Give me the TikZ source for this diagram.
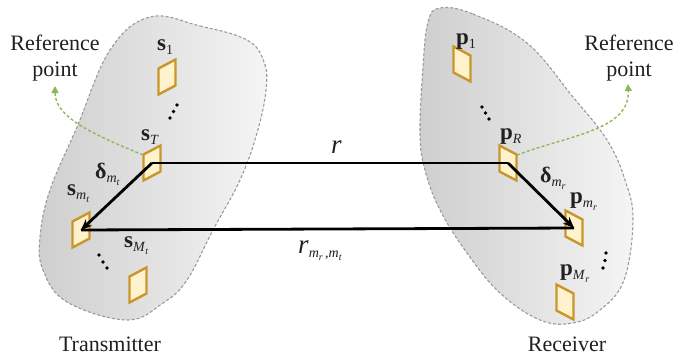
\documentclass[tikz,border=0pt]{standalone}
\usepackage{fontspec}
\setmainfont{Liberation Serif}
\usetikzlibrary{arrows.meta,calc}
\definecolor{txtc}{HTML}{231F20}
\definecolor{elemline}{HTML}{C9962C}
\definecolor{elemfill}{HTML}{FFF2CC}
\definecolor{refgreen}{HTML}{8DB85A}
\definecolor{blobline}{HTML}{9A9A9A}
\newcommand{\sbx}[1]{\raisebox{-4.5pt}{\fontsize{14}{14}\selectfont #1}}
\newcommand{\ssbx}[1]{\raisebox{-3pt}{\fontsize{10}{10}\selectfont #1}}
\tikzset{
  x=1pt, y=-1pt,
  blob/.style={draw=blobline, line width=1.1pt, dash pattern=on 3pt off 2pt,
    left color=black!19, right color=black!4},
  elemstyle/.style={draw=elemline, fill=elemfill, line width=2.4pt, line join=miter},
  txel/.pic={\draw[elemstyle] (-8.5,17.5) -- (8.5,8.5) -- (8.5,-17.5) -- (-8.5,-8.5) -- cycle;},
  rxel/.pic={\draw[elemstyle] (-8.5,-17.5) -- (8.5,-8.5) -- (8.5,17.5) -- (-8.5,8.5) -- cycle;},
  lbl/.style={text=txtc, font=\fontsize{23}{26}\selectfont, inner sep=0pt},
  dlbl/.style={text=txtc, font=\fontsize{22}{26}\selectfont, inner sep=0pt},
  rlbl/.style={text=txtc, font=\fontsize{27}{30}\selectfont, inner sep=0pt},
  bigtxt/.style={text=txtc, font=\fontsize{22}{26}\selectfont, align=center, inner sep=0pt},
  vec/.style={line width=2.8pt, black},
  vecarrow/.style={vec, -{Stealth[length=11pt,width=9pt]}},
  refarrow/.style={refgreen, line width=1.4pt, dash pattern=on 3pt off 2.2pt,
    -{Triangle[length=7pt,width=7pt]}},
  dotm/.style={circle, fill=black, inner sep=0pt, minimum size=3.6pt}
}
\begin{document}
\begin{tikzpicture}
\useasboundingbox (0,0) rectangle (678,362);
% blobs
\path[blob] plot[smooth cycle, tension=0.65] coordinates {
 (150,17) (200,26) (247,40) (264,62) (266,90) (257,133) (240,180) (213,230)
 (187,280) (163,303) (127,320) (67,302) (43,270) (40,237) (50,190) (77,127) (110,50)};
\path[blob] plot[smooth cycle, tension=0.65] coordinates {
 (440,8) (473,14) (527,43) (573,97) (607,140) (625,180) (633,220) (624,280)
 (600,310) (573,323) (540,320) (500,293) (467,253) (440,210) (425,170) (420,133) (423,67) (428,22)};
% element coordinates
\coordinate (s1) at (167,77);
\coordinate (sT) at (152,163);
\coordinate (smt) at (81,230);
\coordinate (sMt) at (138,285);
\coordinate (p1) at (462,64);
\coordinate (pR) at (508,163);
\coordinate (pmr) at (574,228);
\coordinate (pMr) at (565,302);
\pic at (s1) {txel};
\pic at (sT) {txel};
\pic at (smt) {txel};
\pic at (sMt) {txel};
\pic at (p1) {rxel};
\pic at (pR) {rxel};
\pic at (pmr) {rxel};
\pic at (pMr) {rxel};
% dots
\node[dotm] (d1a) at (170,118) {}; \node[dotm] (d1b) at (173.5,111.5) {}; \node[dotm] (d1c) at (177,105) {};
\node[dotm] (d2a) at (99,255) {}; \node[dotm] (d2b) at (103,262) {}; \node[dotm] (d2c) at (107,268) {};
\node[dotm] (d3a) at (482,107) {}; \node[dotm] (d3b) at (485.5,113) {}; \node[dotm] (d3c) at (489,119) {};
\node[dotm] (d4a) at (606,253) {}; \node[dotm] (d4b) at (605,260.5) {}; \node[dotm] (d4c) at (603,268) {};
% labels (anchored at the baseline of the main letter)
\node[lbl, anchor=base west] (ls1) at (157,50) {\textbf{s}\sbx{1}};
\node[lbl, anchor=base west] (lsT) at (141,140) {\textbf{s}\sbx{\textit{T}}};
\node[lbl, anchor=base west] (lsmt) at (67,195) {\textbf{s}\sbx{\textit{m}\ssbx{\textit{t}}}};
\node[lbl, anchor=base west] (lsMt) at (124,247) {\textbf{s}\sbx{\textit{M}\ssbx{\textit{t}}}};
\node[lbl, anchor=base west] (lp1) at (456,44) {\textbf{p}\sbx{1}};
\node[lbl, anchor=base west] (lpR) at (500,139) {\textbf{p}\sbx{\textit{R}}};
\node[lbl, anchor=base west] (lpmr) at (570,203) {\textbf{p}\sbx{\textit{m}\ssbx{\textit{r}}}};
\node[lbl, anchor=base west] (lpMr) at (560,275) {\textbf{p}\sbx{\textit{M}\ssbx{\textit{r}}}};
\node[dlbl, anchor=base west] (ldt) at (95,178) {\textbf{δ}\sbx{\textit{m}\ssbx{\textit{t}}}};
\node[dlbl, anchor=base west] (ldr) at (540,182) {\textbf{δ}\sbx{\textit{m}\ssbx{\textit{r}}}};
\node[rlbl, anchor=base west] (lr) at (331,153) {\textit{r}};
\node[rlbl, anchor=base west] (lrm) at (298,253) {\textit{r}\sbx{\textit{m}\ssbx{\textit{r}}\,,\textit{m}\ssbx{\textit{t}}}};
% reference texts
\node[bigtxt] (refT) at (55,58) {Reference\\point};
\node[bigtxt] (refR) at (629,58) {Reference\\point};
\node[bigtxt] (tx) at (110,344) {Transmitter};
\node[bigtxt] (rx) at (567,344) {Receiver};
% vectors
\draw[vec, line join=round] (pR) -- (sT);
\draw[vec] (smt) -- (pmr);
\draw[vecarrow] (sT) -- (smt);
\draw[vecarrow] (pR) -- (pmr);
% reference arrows
\coordinate (refTtip) at (55,86);
\coordinate (refRtip) at (628,84);
\draw[refarrow] ($(sT)+(-9,-8)$) .. controls (95,135) and (55,118) .. (refTtip);
\draw[refarrow] ($(pR)+(9,-8)$) .. controls (570,135) and (630,130) .. (refRtip);
\end{tikzpicture}
\end{document}
